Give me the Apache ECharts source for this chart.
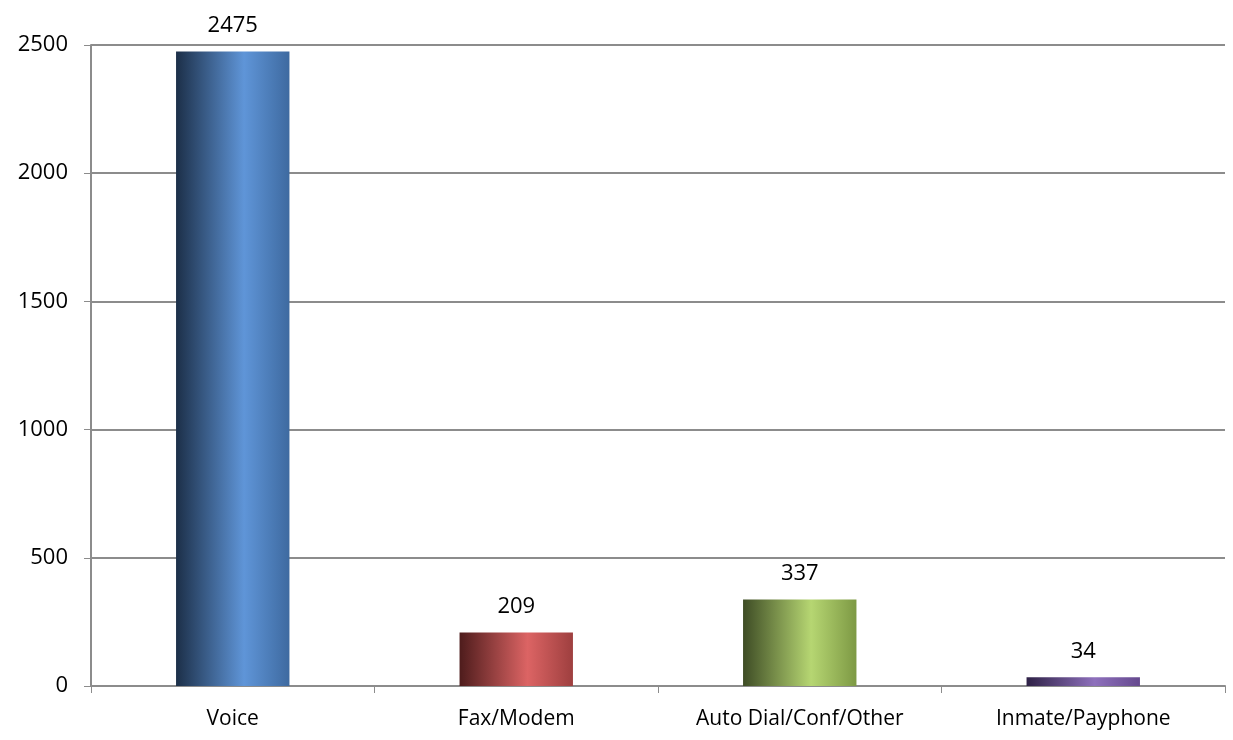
<!DOCTYPE html>
<html>
<head>
<meta charset="utf-8">
<script src="https://cdn.jsdelivr.net/npm/echarts@6/dist/echarts.min.js"></script>
<style>
  html, body { margin: 0; padding: 0; background: #ffffff; }
  #chart { width: 1233px; height: 740px; }
</style>
</head>
<body>
<div id="chart"></div>
<script>
// Call counts by line type
const categories = ['Voice', 'Fax/Modem', 'Auto Dial/Conf/Other', 'Inmate/Payphone'];
const counts = [2475, 209, 337, 34];
const yTicks = { min: 0, max: 2500, interval: 500 };

// Cylinder-like shading per bar: dark edge, bright highlight, mid-tone edge
const shades = [
  ['#1c2f48', '#5f95d8', '#3e6aa0'],
  ['#4e1c1c', '#dc6464', '#9e3f3f'],
  ['#3e4c25', '#b6d672', '#7d9944'],
  ['#2e2146', '#8e70bc', '#65498e']
];

function barGradient(c) {
  return new echarts.graphic.LinearGradient(0, 0, 1, 0, [
    { offset: 0, color: c[0] },
    { offset: 0.6, color: c[1] },
    { offset: 1, color: c[2] }
  ]);
}

const chart = echarts.init(document.getElementById('chart'));
chart.setOption({
  animation: false,
  grid: { left: 91, right: 8, top: 45, bottom: 54, containLabel: false },
  xAxis: {
    type: 'category',
    data: categories,
    axisLine: { show: true, lineStyle: { color: '#8c8c8c', width: 2 } },
    axisTick: { show: true, alignWithLabel: false, length: 7, lineStyle: { color: '#8c8c8c', width: 1 } },
    axisLabel: { color: '#000', fontFamily: 'Open Sans', fontSize: 21, margin: 23 }
  },
  yAxis: {
    type: 'value',
    min: yTicks.min,
    max: yTicks.max,
    interval: yTicks.interval,
    axisLine: { show: true, lineStyle: { color: '#8c8c8c', width: 2 } },
    axisTick: { show: true, length: 7, lineStyle: { color: '#8c8c8c', width: 1 } },
    axisLabel: {
      color: '#000', fontFamily: 'Open Sans', fontSize: 22, margin: 23,
      formatter: (v) => String(v)
    },
    splitLine: { show: true, lineStyle: { color: '#8c8c8c', width: 2 } }
  },
  series: [{
    type: 'bar',
    barWidth: '40%',
    data: counts.map((v, i) => ({
      value: v,
      itemStyle: { color: barGradient(shades[i]) }
    })),
    label: {
      show: true,
      position: 'top',
      distance: 15,
      color: '#000',
      fontFamily: 'Open Sans',
      fontSize: 22
    }
  }]
});
</script>
</body>
</html>
